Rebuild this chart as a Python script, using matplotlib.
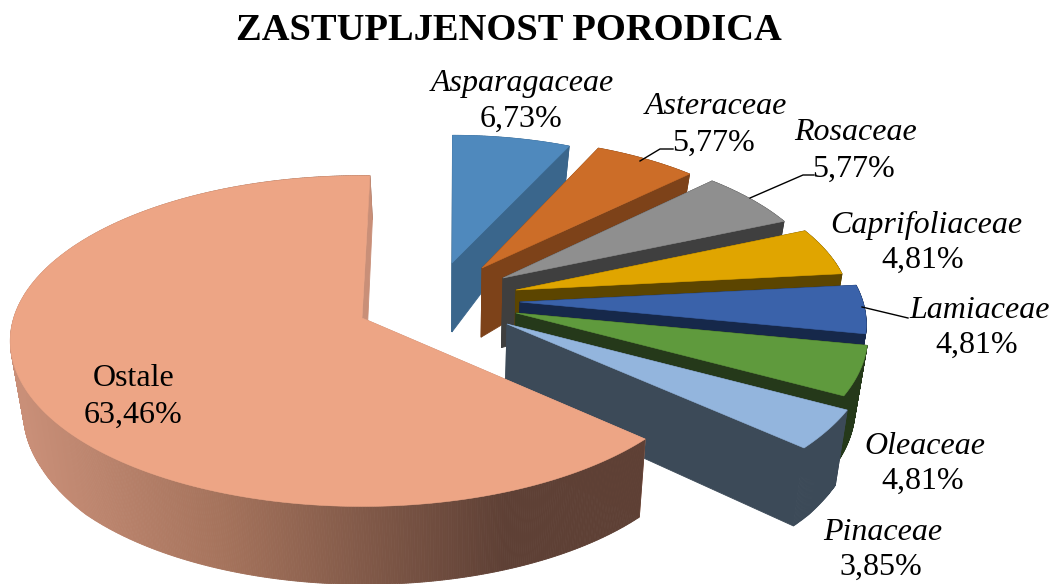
import numpy as np
import matplotlib
matplotlib.use('Agg')
import matplotlib.pyplot as plt

families = ['Asparagaceae', 'Asteraceae', 'Rosaceae', 'Caprifoliaceae', 'Lamiaceae', 'Oleaceae', 'Pinaceae', 'Ostale']
shares = [6.73, 5.77, 5.77, 4.81, 4.81, 4.81, 3.85, 63.46]

top_colors = ['#4F89BD', '#CC6D28', '#8F8F8F', '#E0A500', '#3A62AA', '#5F9A3D', '#93B5DD', '#EDA585']
cut_colors = ['#3A668C', '#7D4219', '#3F3F3F', '#5C4500', '#16284A', '#25391A', '#3C4A58', '#C98F78']
# where each slice's tip ended up after the explosion, in pixels
tips = [(452, 263), (482, 268), (503, 278), (516, 290), (520, 302), (516, 313), (507, 324), (362, 318)]
radius_scale = [0.88, 0.90, 0.92, 0.95, 0.98, 0.995, 1.03, 0.995]
# the small slices look a bit rotated back in the original
start_trim = [1.4, 1.4, 1.4, 1.0, 0.7, 0.7, 0.7, 0.5]
end_trim = [0.7, 0.7, 0.7, 0.7, 0.7, 0.7, 1.2, 0.0]
label_pos = [(522, 84), (716, 106), (856, 133), (926, 225), (980, 310), (925, 446), (883, 532), (134, 378)]
value_pos = [(521, 119), (714, 143), (854, 169), (923, 260), (977, 345), (923, 481), (881, 567), (133, 415)]
leaders = [[(640, 161), (660, 149), (673, 149)],
           [(750, 198), (803, 175), (814, 175)],
           [(862, 307), (908, 318)]]

START_ANGLE = 1.5
RADIUS = 350
FLATNESS = 163
PERSPECTIVE = 0.14
VANISH_X = 450


def project(tip, angle, r):
    u = r * np.sin(np.radians(angle))
    v = -r * np.cos(np.radians(angle))
    s = 1 / (1 - PERSPECTIVE * v)
    return tip[0] + RADIUS * u * s, tip[1] + FLATNESS * v * s


def extrude(x, y):
    depth = np.interp(y, [145, 263, 395, 436], [35, 69, 74, 78])
    return x + (VANISH_X - x) * 0.03, y + depth


def ostale_side_color(x):
    r = np.interp(x, [20, 220, 505], [201, 165, 94])
    g = np.interp(x, [20, 220, 505], [143, 115, 64])
    b = np.interp(x, [20, 220, 505], [120, 92, 53])
    return (r / 255, g / 255, b / 255)


def draw_slice(ax, tip, a0, a1, scale, top_color, cut_color, gradient=False):
    angles = np.linspace(a0, a1, int(abs(a1 - a0) * 3) + 2)
    arc = [project(tip, a, scale) for a in angles]
    outline = [tip] + arc + [tip]
    # faces first, the top covers whatever is behind it
    for p, q in zip(outline[:-1], outline[1:]):
        p2 = extrude(*p)
        q2 = extrude(*q)
        color = cut_color
        if gradient and p != tip and q != tip:
            color = ostale_side_color((p[0] + q[0]) / 2)
        ax.fill([p[0], q[0], q2[0], p2[0]], [p[1], q[1], q2[1], p2[1]],
                color=color, lw=0.6, zorder=ax.zcount)
        ax.zcount += 0.001
    ax.zcount += 1
    ax.fill([p[0] for p in outline], [p[1] for p in outline], color=top_color, lw=0.4, zorder=ax.zcount)
    ax.zcount += 1


plt.rcParams['font.family'] = ['Liberation Serif', 'DejaVu Serif']

fig = plt.figure(figsize=(10.54, 5.84), dpi=100)
ax = fig.add_axes([0, 0, 1, 1])
ax.set_xlim(0, 1054)
ax.set_ylim(584, 0)
ax.axis('off')
ax.zcount = 1

angle = START_ANGLE
for i in range(len(shares)):
    sweep = shares[i] / sum(shares) * 360
    draw_slice(ax, tips[i], angle - start_trim[i], angle + sweep - end_trim[i], radius_scale[i],
               top_colors[i], cut_colors[i], gradient=families[i] == 'Ostale')
    angle += sweep

for line in leaders:
    ax.plot([p[0] for p in line], [p[1] for p in line], color='black', lw=1.0, zorder=ax.zcount)

for i in range(len(families)):
    style = 'normal' if families[i] == 'Ostale' else 'italic'
    ax.text(label_pos[i][0], label_pos[i][1], families[i], fontsize=23, style=style,
            ha='center', va='center', zorder=ax.zcount + 1)
    ax.text(value_pos[i][0], value_pos[i][1], f'{shares[i]:.2f}%'.replace('.', ','), fontsize=23,
            ha='center', va='center', zorder=ax.zcount + 1)

ax.text(509, 31, 'ZASTUPLJENOST PORODICA', fontsize=27.7, fontweight='bold', ha='center', va='center')

fig.savefig('out.png', dpi=100)
